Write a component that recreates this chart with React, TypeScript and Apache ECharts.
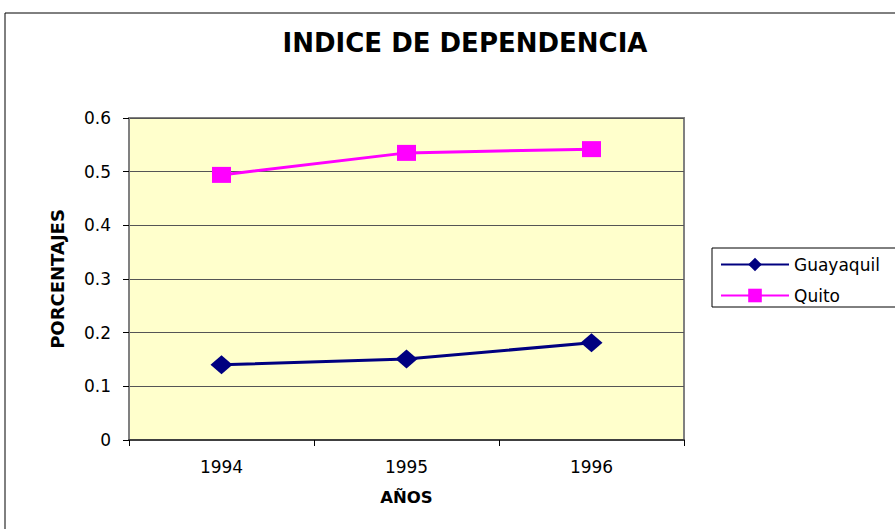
import React, { useEffect, useRef } from "react";
import * as echarts from "echarts";

const years = ["1994", "1995", "1996"];
const guayaquil = [0.14, 0.151, 0.181];
const quito = [0.494, 0.535, 0.542];
const yTicks = [0, 0.1, 0.2, 0.3, 0.4, 0.5, 0.6];

const FONT = "'DejaVu Sans', sans-serif";

export default function App() {
  const ref = useRef<HTMLDivElement>(null);
  useEffect(() => {
    if (!ref.current) return;
    const chart = echarts.init(ref.current, null, { renderer: "svg" });
    chart.setOption({
      animation: false,
      backgroundColor: "#ffffff",
      textStyle: { fontFamily: FONT },
      title: {
        text: "INDICE DE DEPENDENCIA",
        left: 460,
        textAlign: "center",
        top: 25,
        textStyle: { fontSize: 26, fontWeight: "bold", color: "#000", fontFamily: FONT },
      },
      graphic: [
        {
          type: "rect",
          shape: { x: 5, y: 13, width: 900, height: 530 },
          style: { fill: "none", stroke: "#000", lineWidth: 1 },
          z: -1,
        },
        {
          type: "rect",
          shape: { x: 712, y: 248, width: 200, height: 59 },
          style: { fill: "#fff", stroke: "#000", lineWidth: 1 },
          z: 0,
        },
      ],
      legend: {
        orient: "vertical",
        left: 715,
        top: 251,
        itemWidth: 68,
        itemHeight: 17,
        itemGap: 14,
        lineStyle: { width: 2 },
        textStyle: { fontSize: 17, color: "#000", fontFamily: FONT },
        data: ["Guayaquil", "Quito"],
        z: 5,
      },
      grid: {
        left: 129,
        top: 118,
        right: 211,
        bottom: 89,
        show: true,
        backgroundColor: "#FFFFCC",
        borderColor: "#808080",
        borderWidth: 2,
      },
      xAxis: {
        type: "category",
        data: years,
        boundaryGap: true,
        name: "AÑOS",
        nameLocation: "middle",
        nameGap: 49,
        nameTextStyle: { fontSize: 16.5, fontWeight: "bold", color: "#000", fontFamily: FONT },
        axisLine: { lineStyle: { color: "#404040", width: 2 } },
        axisTick: { show: true, length: 6, lineStyle: { color: "#000" } },
        axisLabel: {
          color: "#000",
          margin: 18,
          fontSize: 17,
          fontFamily: FONT,
        },
      },
      yAxis: {
        type: "value",
        min: 0,
        max: 0.6,
        interval: 0.1,
        name: "PORCENTAJES",
        nameLocation: "middle",
        nameGap: 63,
        nameTextStyle: { fontSize: 18, fontWeight: "bold", color: "#000", fontFamily: FONT },
        axisLine: { show: true, lineStyle: { color: "#808080", width: 2 } },
        axisTick: { show: true, length: 6, lineStyle: { color: "#000" } },
        axisLabel: {
          fontSize: 17,
          fontFamily: FONT,
          color: "#000",
          margin: 18,
          formatter: (v: number) => {
            const t = yTicks.find((x) => Math.abs(x - v) < 1e-9);
            return t === undefined ? "" : String(t);
          },
        },
        splitLine: { show: true, lineStyle: { color: "#555", width: 1 } },
      },
      series: [
        {
          name: "Guayaquil",
          type: "line",
          data: guayaquil,
          color: "#000080",
          symbol: "diamond",
          symbolSize: [22, 19],
          lineStyle: { width: 3, color: "#000080" },
          itemStyle: { color: "#000080" },
        },
        {
          name: "Quito",
          type: "line",
          data: quito,
          color: "#FF00FF",
          symbol: "rect",
          symbolSize: [19, 16],
          lineStyle: { width: 3, color: "#FF00FF" },
          itemStyle: { color: "#FF00FF", borderRadius: 2 },
        },
      ],
    });
    return () => chart.dispose();
  }, []);
  return (
    <div
      ref={ref}
      style={{ position: "fixed", left: 0, top: 0, width: 895, height: 529 }}
    />
  );
}
